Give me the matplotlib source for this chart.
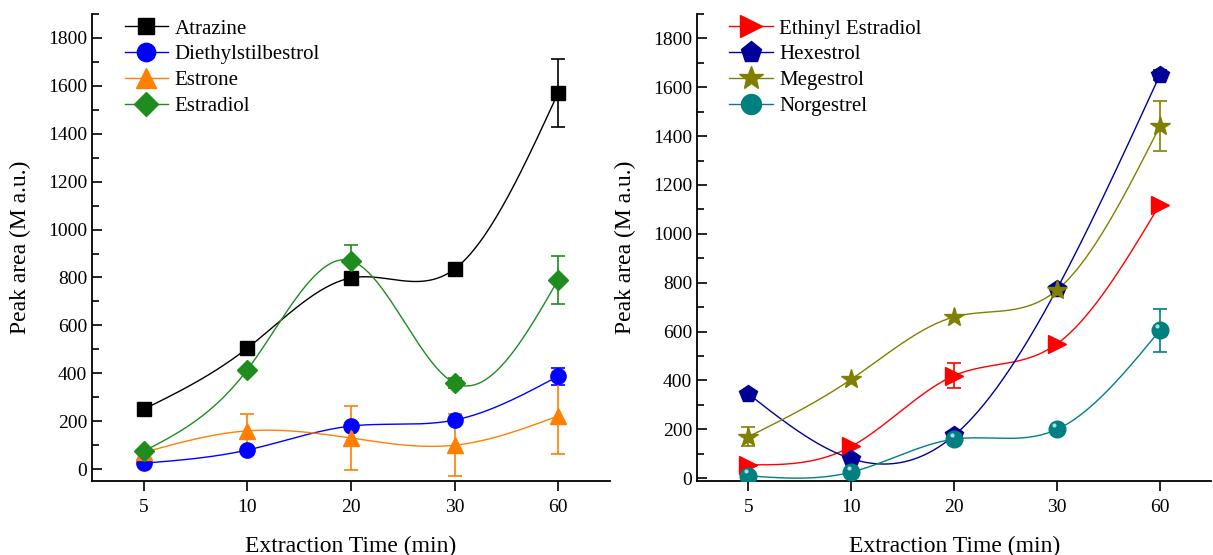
import numpy as np
import matplotlib
matplotlib.use("Agg")
import matplotlib.pyplot as plt
from matplotlib.ticker import MultipleLocator

plt.rcParams['font.family'] = ['Liberation Serif', 'DejaVu Serif']

times = ["5", "10", "20", "30", "60"]

# left panel
atrazine = [250, 505, 798, 835, 1570]
atrazine_err = [0, 0, 0, 0, 143]
diethylstilbestrol = [25, 80, 180, 205, 388]
diethylstilbestrol_err = [0, 0, 0, 0, 35]
estrone = [70, 160, 130, 100, 222]
estrone_err = [0, 70, 135, 130, 157]
estradiol = [75, 415, 870, 360, 790]
estradiol_err = [0, 0, 65, 20, 100]

# right panel
ethinyl_estradiol = [55, 130, 420, 550, 1120]
ethinyl_estradiol_err = [0, 0, 50, 0, 0]
hexestrol = [345, 80, 175, 775, 1650]
hexestrol_err = [0, 0, 0, 0, 20]
megestrol = [170, 405, 660, 770, 1440]
megestrol_err = [40, 0, 0, 0, 102]
norgestrel = [10, 25, 160, 200, 605]
norgestrel_err = [0, 0, 0, 0, 88]


def natural_spline(x, y, n=200):
    # natural cubic spline through the points, only for the connecting curve
    x = np.asarray(x, float)
    y = np.asarray(y, float)
    k = len(x)
    h = np.diff(x)
    A = np.zeros((k, k))
    b = np.zeros(k)
    A[0, 0] = A[-1, -1] = 1
    for i in range(1, k - 1):
        A[i, i - 1] = h[i - 1]
        A[i, i] = 2 * (h[i - 1] + h[i])
        A[i, i + 1] = h[i]
        b[i] = 3 * ((y[i + 1] - y[i]) / h[i] - (y[i] - y[i - 1]) / h[i - 1])
    c = np.linalg.solve(A, b)
    xs = np.linspace(x[0], x[-1], n)
    ys = np.empty_like(xs)
    for j, xv in enumerate(xs):
        i = min(np.searchsorted(x, xv, side='right') - 1, k - 2)
        dx = xv - x[i]
        bi = (y[i + 1] - y[i]) / h[i] - h[i] * (2 * c[i] + c[i + 1]) / 3
        di = (c[i + 1] - c[i]) / (3 * h[i])
        ys[j] = y[i] + bi * dx + c[i] * dx ** 2 + di * dx ** 3
    return xs, ys


def draw_series(ax, vals, err, color, marker, label, ms=12, sphere=False):
    x = np.arange(len(vals))
    xs, ys = natural_spline(x, vals)
    ax.plot(xs, ys, color=color, lw=1.0, zorder=2)
    e = np.array(err, float)
    mask = e > 0
    if mask.any():
        ax.errorbar(x[mask], np.array(vals)[mask], yerr=e[mask], fmt='none',
                    ecolor=color, elinewidth=1.2, capsize=5, capthick=1.2, zorder=3)
    ax.plot(x, vals, ls='none', marker=marker, ms=ms, color=color,
            mec=color, zorder=4)
    if sphere:
        ax.plot(x - 0.025, np.array(vals) + 18, ls='none', marker='o', ms=3,
                color='#a8dede', mec='none', zorder=5)
    ax.plot([], [], color=color, lw=1.0, marker=marker, ms=ms, mec=color,
            label=label)


def style_axes(ax, ylim):
    ax.set_xlim(-0.5, 4.5)
    ax.set_ylim(*ylim)
    ax.set_xticks(range(len(times)))
    ax.set_xticklabels(times)
    ax.yaxis.set_major_locator(MultipleLocator(200))
    ax.yaxis.set_minor_locator(MultipleLocator(100))
    ax.spines['top'].set_visible(False)
    ax.spines['right'].set_visible(False)
    for s in ('left', 'bottom'):
        ax.spines[s].set_linewidth(1.3)
    ax.tick_params(axis='y', which='both', direction='in', labelsize=14, width=1.2)
    ax.tick_params(axis='y', which='major', length=7)
    ax.tick_params(axis='y', which='minor', length=5)
    ax.tick_params(axis='x', direction='out', length=7, width=1.2, labelsize=14, pad=6)
    ax.set_xlabel("Extraction Time (min)", fontsize=17, labelpad=14)
    ax.set_ylabel("Peak area (M a.u.)", fontsize=17, labelpad=12)
    ax.legend(loc='upper left', frameon=False, fontsize=15, handlelength=2.1,
              handletextpad=0.3, labelspacing=0.3, borderaxespad=0.0,
              borderpad=0.2, markerscale=1.2, bbox_to_anchor=(0.055, 0.998))


fig = plt.figure(figsize=(12.13, 5.55), dpi=100)
ax1 = fig.add_axes([0.0758, 0.133, 0.427, 0.842])
ax2 = fig.add_axes([0.5746, 0.133, 0.424, 0.842])

draw_series(ax1, atrazine, atrazine_err, 'black', 's', 'Atrazine', ms=10)
draw_series(ax1, diethylstilbestrol, diethylstilbestrol_err, '#0000ff', 'o', 'Diethylstilbestrol', ms=11)
draw_series(ax1, estrone, estrone_err, '#ff8000', '^', 'Estrone', ms=12)
draw_series(ax1, estradiol, estradiol_err, '#1e8c1e', 'D', 'Estradiol', ms=10)
style_axes(ax1, (-50, 1900))

draw_series(ax2, ethinyl_estradiol, ethinyl_estradiol_err, '#ff0000', '>', 'Ethinyl Estradiol', ms=13)
draw_series(ax2, hexestrol, hexestrol_err, '#000099', 'p', 'Hexestrol', ms=13)
draw_series(ax2, megestrol, megestrol_err, '#808000', '*', 'Megestrol', ms=15)
draw_series(ax2, norgestrel, norgestrel_err, '#008080', 'o', 'Norgestrel', ms=12, sphere=True)
style_axes(ax2, (-12, 1900))

fig.savefig("out.png", dpi=100)
